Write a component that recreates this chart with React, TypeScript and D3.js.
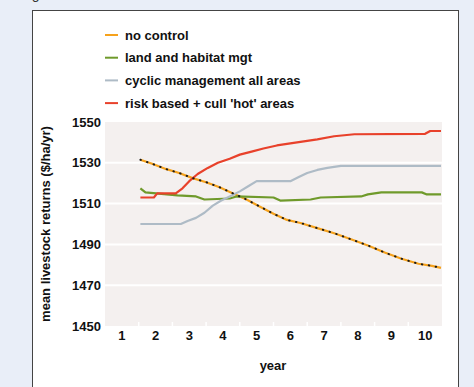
import React from "react";
import * as d3 from "d3";

const years = [1, 2, 3, 4, 5, 6, 7, 8, 9, 10];
const yTicks = [1450, 1470, 1490, 1510, 1530, 1550];
const seriesNames = [
  "no control",
  "land and habitat mgt",
  "cyclic management all areas",
  "risk based + cull 'hot' areas",
];
const seriesColors = ["#f6a21c", "#6f9a2b", "#aebbc6", "#e8412b"];

const noControl: [number, number][] = [
  [1.55, 1531.5], [1.9, 1529.5], [2.3, 1527], [2.7, 1525], [3.1, 1522.5], [3.5, 1520.5],
  [3.9, 1518], [4.3, 1515], [4.7, 1512], [5.1, 1508.5], [5.5, 1505], [5.9, 1502],
  [6.3, 1500.5], [6.8, 1498], [7.3, 1495.5], [7.8, 1492.5], [8.3, 1489.5], [8.8, 1486],
  [9.3, 1483], [9.8, 1480.5], [10.2, 1479.5], [10.47, 1478.5],
];
const landHabitat: [number, number][] = [
  [1.55, 1517.5], [1.7, 1515.5], [2.65, 1514], [3.2, 1513.5], [3.45, 1512], [4.2, 1512.5],
  [4.4, 1513.5], [5.5, 1513], [5.7, 1511.5], [6.6, 1512], [6.9, 1513], [8.1, 1513.5],
  [8.3, 1514.5], [8.7, 1515.5], [9.9, 1515.5], [10.05, 1514.5], [10.47, 1514.5],
];
const cyclic: [number, number][] = [
  [1.55, 1500], [2.75, 1500], [2.95, 1501.5], [3.2, 1503], [3.45, 1505.5], [3.7, 1509],
  [3.95, 1511.5], [4.2, 1513.5], [4.5, 1516], [4.75, 1518.5], [5.0, 1521], [6.0, 1521],
  [6.25, 1523], [6.5, 1525], [6.8, 1526.5], [7.1, 1527.5], [7.5, 1528.5], [10.47, 1528.5],
];
const riskBased: [number, number][] = [
  [1.55, 1513], [1.95, 1513], [2.05, 1515], [2.6, 1515], [2.8, 1517.5], [3.0, 1521],
  [3.25, 1524.5], [3.55, 1527.5], [3.85, 1530], [4.2, 1532], [4.5, 1534], [4.85, 1535.5],
  [5.2, 1537], [5.6, 1538.5], [6.0, 1539.5], [6.4, 1540.5], [6.8, 1541.5], [7.3, 1543],
  [7.9, 1544], [10.0, 1544.2], [10.15, 1545.6], [10.47, 1545.6],
];
const allSeries = [noControl, landHabitat, cyclic, riskBased];

const FONT = "'Liberation Sans', Arial, sans-serif";

export default function App() {
  const W = 474, H = 387;
  const left = 105, right = 442, top = 122, bottom = 326;
  const x = d3.scaleLinear().domain([0.5, 10.5]).range([left, right]);
  const y = d3.scaleLinear().domain([1450, 1550]).range([bottom, top]);
  const line = d3
    .line<[number, number]>()
    .x((d) => x(d[0]))
    .y((d) => y(d[1]))
    .curve(d3.curveLinear);

  return (
    <svg
      width={W}
      height={H}
      style={{ position: "absolute", left: 0, top: 0, display: "block" }}
      fontFamily={FONT}
    >
      <rect x={0} y={0} width={W} height={H} fill="#e9eef8" />
      <text x={20} y={-1} fontSize={14} fill="#333">Figure</text>
      <rect x={32.5} y={10.5} width={426} height={400} fill="#ffffff" stroke="#444" strokeWidth={1} />

      {/* legend */}
      {seriesNames.map((n, i) => (
        <g key={n} transform={`translate(0, ${35 + i * 22.7})`}>
          <line x1={105} x2={118} y1={0} y2={0} stroke={seriesColors[i]} strokeWidth={2} />
          <text x={125} y={0} dy="0.35em" fontSize={13} fontWeight="bold" fill="#111">
            {n}
          </text>
        </g>
      ))}

      {/* plot background */}
      <rect x={left} y={top} width={right - left} height={bottom - top} fill="#f4f0ef" />
      {yTicks.slice(1, -1).map((t) => (
        <line key={t} x1={left} x2={right} y1={y(t)} y2={y(t)} stroke="#ffffff" strokeWidth={2} />
      ))}
      {years.slice(1).map((yr) => (
        <line
          key={yr}
          x1={x(yr - 0.5)}
          x2={x(yr - 0.5)}
          y1={bottom - 4}
          y2={bottom}
          stroke="#ffffff"
          strokeWidth={1.5}
        />
      ))}

      {/* y ticks */}
      {yTicks.map((t) => (
        <text key={t} x={101} y={y(t)} dy="0.35em" textAnchor="end" fontSize={13} fontWeight="bold" fill="#111">
          {t}
        </text>
      ))}
      {/* x ticks */}
      {years.map((yr) => (
        <text key={yr} x={x(yr)} y={340} textAnchor="middle" fontSize={13} fontWeight="bold" fill="#111">
          {yr}
        </text>
      ))}
      <text x={273} y={370} textAnchor="middle" fontSize={13} fontWeight="bold" fill="#111">
        year
      </text>
      <text
        transform={`translate(50, ${(top + bottom) / 2}) rotate(-90)`}
        textAnchor="middle"
        fontSize={13}
        fontWeight="bold"
        fill="#111"
      >
        mean livestock returns ($/ha/yr)
      </text>

      {/* series */}
      {allSeries.map((s, i) => (
        <path key={i} d={line(s) || ""} fill="none" stroke={seriesColors[i]} strokeWidth={2.2} strokeLinejoin="round" />
      ))}
      <path
        d={line(noControl) || ""}
        fill="none"
        stroke="#1a1a1a"
        strokeWidth={2}
        strokeDasharray="0.5 6.5"
        strokeLinecap="round"
      />
    </svg>
  );
}
